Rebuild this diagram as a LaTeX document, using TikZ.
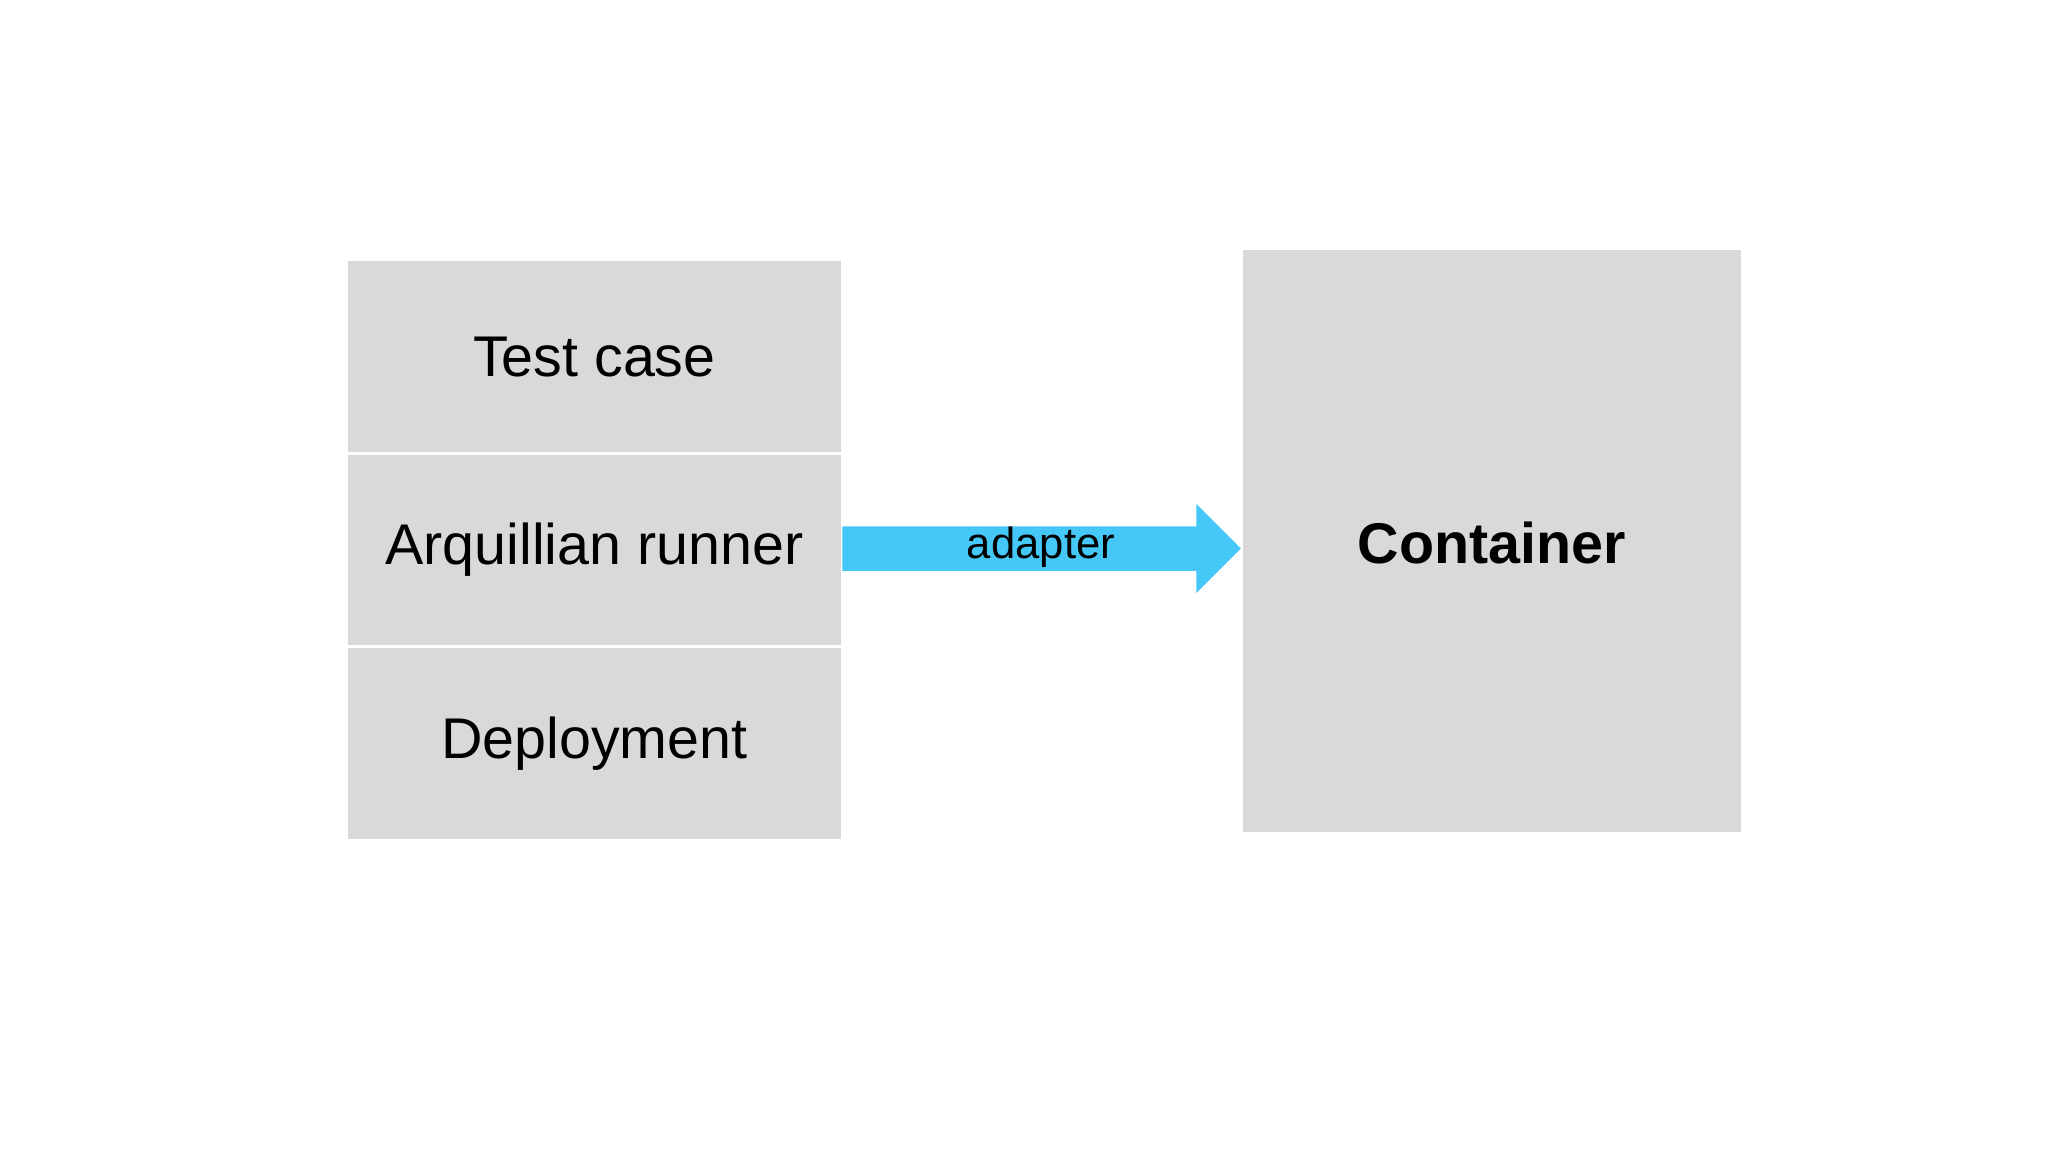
\documentclass[tikz,border=0pt]{standalone}
\usepackage{fontspec}
\setmainfont{Liberation Sans}
\definecolor{boxgray}{HTML}{D9D9D9}
\definecolor{arrcyan}{HTML}{45C8F8}
\begin{document}
\begin{tikzpicture}[x=0.01cm,y=-0.01cm,
  blk/.style={draw=white,line width=0.6pt,fill=boxgray,minimum width=380*0.01cm,minimum height=148*0.01cm,inner sep=0pt,font=\fontsize{12.5}{14}\selectfont,anchor=north west},
  arr/.style={fill=arrcyan}]
\useasboundingbox[fill=white] (0,0) rectangle (1568,882);
\node[blk] (tc) at (264,198) {Test case};
\node[blk] (ar) at (264,346) {Arquillian runner};
\node[blk] (dp) at (264,494) {Deployment};
\node[fill=boxgray,minimum width=381*0.01cm,minimum height=445*0.01cm,inner sep=0pt,anchor=north west,font=\fontsize{12.5}{14}\selectfont\bfseries] (ct) at (951,191) {};
\node[font=\fontsize{12.5}{14}\selectfont\bfseries] (ctl) at (1142,416) {Container};
\coordinate (a0) at (ar.east);
\fill[arr] (645,403) -- (916,403) -- (916,386) -- (950,420) -- (916,454) -- (916,437) -- (645,437) -- cycle;
\node[font=\fontsize{9.5}{11}\selectfont] (ad) at (797,419) {adapter};
\end{tikzpicture}
\end{document}
